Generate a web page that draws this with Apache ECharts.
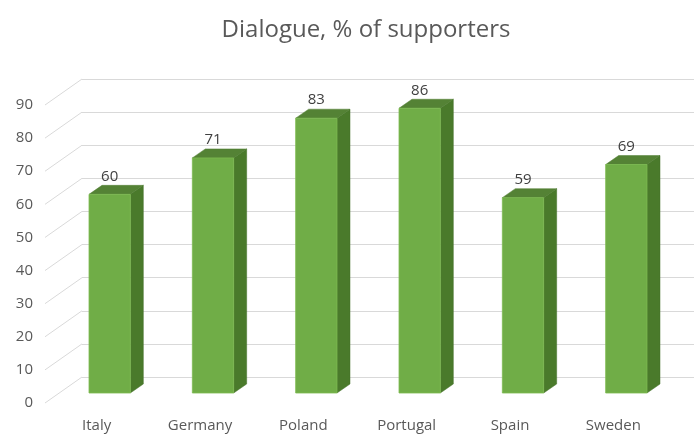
<!DOCTYPE html>
<html>
<head>
<meta charset="utf-8">
<script src="https://cdn.jsdelivr.net/npm/echarts@6/dist/echarts.min.js"></script>
<style>
  html, body { margin: 0; padding: 0; background: #fff; }
  #chart { width: 694px; height: 435px; }
</style>
</head>
<body>
<div id="chart"></div>
<script>
const categories = ['Italy', 'Germany', 'Poland', 'Portugal', 'Spain', 'Sweden'];
const supporters = [60, 71, 83, 86, 59, 69];
const yTicks = [0, 10, 20, 30, 40, 50, 60, 70, 80, 90];

const FONT = '"Open Sans", "Liberation Sans", sans-serif';
const GRID_COLOR = '#d9d9d9';
const TEXT_COLOR = '#595959';

// Three parallel planes of the pseudo-3D box: label plane (front),
// bar front faces, and back wall carrying the gridlines.
const labelGrid = { left: 45, width: 620, top: 105, bottom: 32 };
const barGrid = { left: 58, width: 620, top: 95, bottom: 42 };
const wallGrid = { left: 82, right: 0, top: 79, bottom: 58 };

const DEPTH_X = 13, DEPTH_Y = -9;      // bar depth
const WALL_DX = 37, WALL_DY = -26;     // floor diagonal from label plane to wall

const chart = echarts.init(document.getElementById('chart'), null, { renderer: 'canvas' });

const yBase = { type: 'value', min: 0, max: 90, interval: 10 };

chart.setOption({
  animation: false,
  title: {
    text: 'Dialogue, % of supporters',
    left: 361,
    textAlign: 'center',
    top: 13,
    textStyle: { fontFamily: FONT, fontSize: 24, fontWeight: 'normal', color: TEXT_COLOR }
  },
  grid: [labelGrid, barGrid, wallGrid],
  xAxis: [
    {
      gridIndex: 0, type: 'category', data: categories,
      axisLine: { show: false }, axisTick: { show: false },
      axisLabel: { margin: 15, fontFamily: FONT, fontSize: 15, color: TEXT_COLOR }
    },
    { gridIndex: 1, type: 'category', data: categories, show: false },
    { gridIndex: 2, type: 'value', min: 0, max: 1, show: false }
  ],
  yAxis: [
    Object.assign({}, yBase, {
      gridIndex: 0,
      axisLine: { show: false }, axisTick: { show: false }, splitLine: { show: false },
      axisLabel: { margin: 12, fontFamily: FONT, fontSize: 15, color: TEXT_COLOR }
    }),
    Object.assign({}, yBase, { gridIndex: 1, show: false, splitLine: { show: false } }),
    Object.assign({}, yBase, {
      gridIndex: 2,
      axisLine: { show: false }, axisTick: { show: false }, axisLabel: { show: false },
      splitLine: { show: true, lineStyle: { color: GRID_COLOR, width: 1 } }
    })
  ],
  series: [
    {
      // floor diagonals joining each tick label to its wall gridline
      type: 'custom',
      xAxisIndex: 2, yAxisIndex: 2,
      data: yTicks.map(v => [0, v]),
      silent: true,
      z: 1,
      renderItem: function (params, api) {
        const p = api.coord([0, api.value(1)]);
        return {
          type: 'line',
          shape: { x1: p[0] - WALL_DX, y1: p[1] - WALL_DY, x2: p[0], y2: p[1] },
          style: { stroke: GRID_COLOR, lineWidth: 1 }
        };
      }
    },
    {
      type: 'custom',
      xAxisIndex: 1, yAxisIndex: 1,
      data: supporters.map((v, i) => [i, v]),
      z: 5,
      renderItem: function (params, api) {
        const idx = api.value(0), v = api.value(1);
        const top = api.coord([idx, v]);
        const base = api.coord([idx, 0]);
        const bw = api.size([1, 0])[0] * 0.4;
        const l = top[0] - bw / 2, r = top[0] + bw / 2;
        const t = top[1], b = base[1];
        return {
          type: 'group',
          children: [
            {
              type: 'polygon',
              shape: { points: [[r, t], [r + DEPTH_X, t + DEPTH_Y], [r + DEPTH_X, b + DEPTH_Y], [r, b]] },
              style: { fill: '#4a7a2b', stroke: '#45702a', lineWidth: 0.5 }
            },
            {
              type: 'polygon',
              shape: { points: [[l, t], [l + DEPTH_X, t + DEPTH_Y], [r + DEPTH_X, t + DEPTH_Y], [r, t]] },
              style: { fill: '#548235', stroke: '#4f7c31', lineWidth: 0.5 }
            },
            {
              type: 'rect',
              shape: { x: l, y: t, width: bw, height: b - t },
              style: { fill: '#70ad47', stroke: '#7dbb52', lineWidth: 0.8 }
            },
            {
              type: 'text',
              style: {
                text: String(v),
                x: top[0], y: t - 18,
                align: 'center', verticalAlign: 'middle',
                fontFamily: FONT, fontSize: 15, fill: '#404040'
              }
            }
          ]
        };
      }
    }
  ]
});
</script>
</body>
</html>
